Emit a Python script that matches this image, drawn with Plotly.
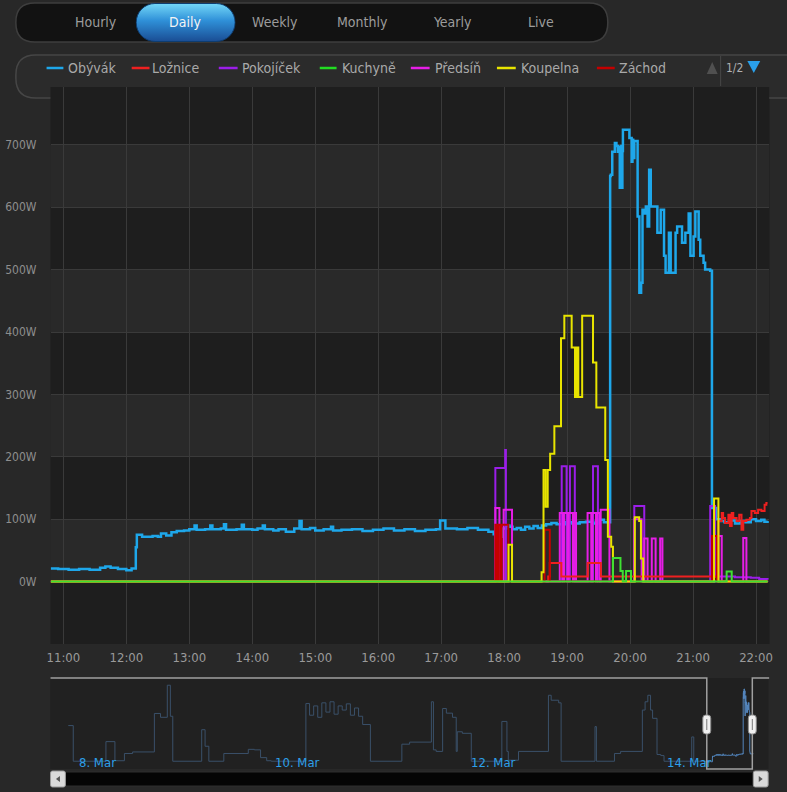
import base64
import plotly.graph_objects as go

DAY = "2015-03-14 "

# ---------------- data (times HH:MM[:SS] on 14 Mar, values in W) ----------------
OBYVAK_T = ["10:48", "10:55", "11:05", "11:15", "11:25", "11:35", "11:40", "11:45", "11:52", "12:00",
            "12:05", "12:09", "12:10", "12:15", "12:25", "12:30", "12:33", "12:38", "12:43", "12:48",
            "12:55", "13:00", "13:05", "13:07", "13:15", "13:20", "13:22", "13:30", "13:33", "13:35",
            "13:45", "13:50", "13:52", "14:00", "14:05", "14:10", "14:12", "14:20", "14:25", "14:32",
            "14:40", "14:45", "14:47", "14:55", "15:00", "15:08", "15:15", "15:17", "15:25", "15:35",
            "15:45", "15:55", "16:05", "16:15", "16:25", "16:35", "16:45", "16:55", "16:59", "17:04",
            "17:15", "17:25", "17:35", "17:45", "17:50", "17:55", "17:58", "18:02", "18:05", "18:08",
            "18:12", "18:16", "18:20", "18:24", "18:28", "18:32", "18:36", "18:40", "18:45", "18:50",
            "18:58", "19:05", "19:12", "19:18", "19:25", "19:30", "19:35",
            "19:41:00", "19:41:40", "19:43:00", "19:45:30", "19:47:00", "19:48:20", "19:49:40", "19:50:10",
            "19:50:40", "19:51:10", "19:51:40", "19:52:10", "19:52:40", "19:53:10", "19:59:20", "20:01:30",
            "20:02:15", "20:03:00", "20:04:00", "20:07:10", "20:08:50", "20:10:30", "20:11:50", "20:13:30",
            "20:15:00", "20:16:40", "20:18:10", "20:19:40", "20:24:20", "20:26:00", "20:29:10", "20:32:20",
            "20:33:50", "20:37:00", "20:38:40", "20:43:20", "20:44:50", "20:49:30", "20:52:40", "20:55:50",
            "20:57:30", "21:00:30", "21:02:10", "21:05:20", "21:06:50", "21:10:00", "21:11:30", "21:16:20",
            "21:18:00", "21:22", "21:26", "21:30", "21:35", "21:40", "21:45", "21:50", "21:55", "22:00",
            "22:05", "22:08", "22:11"]
OBYVAK_W = [21, 20, 19, 20, 19, 22, 24, 22, 20, 18,
            21, 55, 75, 72, 73, 72, 77, 74, 79, 81,
            82, 84, 90, 83, 84, 90, 84, 85, 92, 83,
            84, 91, 84, 83, 85, 90, 84, 82, 84, 80,
            85, 97, 84, 86, 82, 84, 88, 82, 83, 84,
            81, 83, 85, 82, 84, 81, 83, 84, 98, 85,
            84, 86, 83, 80, 76, 72, 85, 90, 88, 84,
            86, 83, 88, 85, 89, 86, 90, 92, 94, 92,
            95, 93, 95, 96, 93, 99, 95,
            650, 652, 689, 703, 698, 689, 697, 631,
            695, 633, 698, 631, 690, 724, 711, 673,
            708, 679, 706, 585, 463, 479, 596, 590,
            601, 569, 660, 601, 601, 559, 596, 522,
            495, 559, 495, 559, 569, 543, 559, 590,
            522, 553, 593, 548, 522, 511, 500, 498,
            118, 100, 97, 95, 98, 93, 97, 95, 100, 97,
            99, 96, 97]

LOZNICE_T = ["10:48", "18:42", "18:43:30", "18:54:30", "19:19:40", "19:32:10", "21:24:10", "21:27:20",
             "21:28:40", "21:30:30", "21:33:40", "21:35:10", "21:36:50", "21:38:20", "21:41:30", "21:44:00",
             "21:46:10", "21:47:50", "21:50:50", "21:54:10", "21:55:40", "21:58:50", "22:02:00", "22:05:10",
             "22:08:10", "22:09:50", "22:11:00"]
LOZNICE_W = [0, 8, 30, 8, 30, 8, 97, 110,
             102, 94, 107, 89, 110, 102, 97, 107,
             83, 97, 99, 102, 113, 110, 115, 113,
             123, 126, 126]

POKOJICEK_T = ["10:48", "17:51:36", "18:01:00", "18:01:40", "18:54:50", "18:59:30", "19:02:40", "19:07:20",
               "19:24:40", "19:29:20", "20:04:00", "20:13:30", "21:16:20", "21:21:00", "21:40", "21:55",
               "22:03", "22:11"]
POKOJICEK_W = [0, 182, 211, 0, 185, 0, 185, 0,
               185, 0, 121, 0, 121, 8, 7, 6,
               4, 3]

KUCHYNE_T = ["10:48", "19:43:40", "19:50:50", "19:53:00", "19:56:10", "20:00:50", "21:32:00", "21:36:50", "22:11"]
KUCHYNE_W = [0, 38, 17, 0, 17, 0, 16, 0, 0]

PREDSIN_T = ["10:48", "17:51:36", "17:55:30", "17:59:30", "18:07:30", "18:53:00", "18:56:00", "18:57:00",
             "19:00:30", "19:01:30", "19:05:30", "19:06:30", "19:08:30", "19:19:30", "19:23:00", "19:24:00",
             "19:27:30", "19:28:30", "19:31:00", "19:32:00", "19:40:20", "20:04:00", "20:11:00", "20:13:30",
             "20:16:40", "20:20:40", "20:24:20", "20:28:40", "20:30:50", "21:24:10", "21:27:20", "21:47:50",
             "21:50:50", "22:11"]
PREDSIN_W = [0, 118, 0, 115, 0, 110, 0, 110,
             0, 110, 0, 110, 0, 110, 0, 110,
             0, 110, 0, 115, 0, 100, 0, 69,
             0, 69, 0, 69, 0, 73, 0, 70,
             0, 0]

KOUPELNA_T = ["10:48", "18:04:10", "18:07:30", "18:35:40", "18:37:30", "18:39:30", "18:41:30", "18:43:50",
              "18:47:50", "18:54:10", "18:57:20", "19:04:20", "19:07:30", "19:09:00", "19:10:40", "19:14:20",
              "19:24:40", "19:27:50", "19:36:20", "19:38:50", "19:42:00", "19:43:40", "20:04:30", "20:08:40",
              "20:10:20", "20:12:30", "21:20:00", "21:24:10", "22:11"]
KOUPELNA_W = [0, 59, 0, 15, 179, 120, 179, 205,
              249, 390, 426, 375, 296, 375, 296, 426,
              351, 279, 195, 72, 56, 0, 103, 97,
              37, 0, 133, 0, 0]

ZACHOD_T = ["10:48", "17:51:36", "17:53:30", "17:54:30", "17:56:30", "17:57:30", "18:04:00", "18:38:30",
            "18:43:30", "21:18:00", "21:22:40", "22:11"]
ZACHOD_W = [0, 91, 0, 91, 0, 91, 0, 83,
            0, 73, 0, 0]

# navigator history (first series over the previous days)
NAV_HIST_T = ["2015-03-07 22:25", "2015-03-07 23:38", "2015-03-08 07:38", "2015-03-08 09:50", "2015-03-08 12:10",
              "2015-03-08 14:10", "2015-03-08 19:30", "2015-03-08 21:00", "2015-03-08 22:40", "2015-03-08 23:25",
              "2015-03-09 00:00", "2015-03-09 07:05", "2015-03-09 07:55", "2015-03-09 08:50", "2015-03-09 12:30",
              "2015-03-09 18:30", "2015-03-09 20:00", "2015-03-09 21:30", "2015-03-09 23:00", "2015-03-10 00:06",
              "2015-03-10 08:36", "2015-03-10 09:30", "2015-03-10 10:30", "2015-03-10 11:30", "2015-03-10 12:30",
              "2015-03-10 13:30", "2015-03-10 14:30", "2015-03-10 15:30", "2015-03-10 16:30", "2015-03-10 17:30",
              "2015-03-10 18:30", "2015-03-10 19:30", "2015-03-10 20:30", "2015-03-10 21:30", "2015-03-10 22:30",
              "2015-03-11 00:24", "2015-03-11 08:06", "2015-03-11 10:00", "2015-03-11 15:20", "2015-03-11 15:50",
              "2015-03-11 16:30", "2015-03-11 18:05", "2015-03-11 19:00", "2015-03-11 20:30", "2015-03-11 21:25",
              "2015-03-11 21:40", "2015-03-11 22:55", "2015-03-12 01:06", "2015-03-12 08:35", "2015-03-12 09:50",
              "2015-03-12 10:10", "2015-03-12 12:40", "2015-03-12 20:00", "2015-03-12 20:40", "2015-03-12 22:30",
              "2015-03-12 23:06", "2015-03-13 07:24", "2015-03-13 07:45", "2015-03-13 12:10", "2015-03-13 13:40",
              "2015-03-13 19:00", "2015-03-13 19:40", "2015-03-13 20:20", "2015-03-13 21:00", "2015-03-13 21:30",
              "2015-03-13 22:35", "2015-03-13 23:30", "2015-03-14 00:18", "2015-03-14 07:05", "2015-03-14 07:35"]
NAV_HIST_W = [370, 25, 215, 30, 100,
              115, 487, 450, 760, 460,
              25, 330, 170, 25, 100,
              140, 135, 60, 30, 25,
              583, 470, 560, 450, 590,
              500, 600, 480, 560, 520,
              580, 470, 540, 460, 380,
              25, 190, 210, 600, 135,
              120, 535, 490, 450, 120,
              310, 295, 25, 410, 120,
              35, 120, 663, 615, 590,
              25, 360, 25, 100, 120,
              520, 600, 663, 520, 440,
              90, 80, 25, 260, 25]

NAV_TICKS = ["2015-03-08", "2015-03-10", "2015-03-12", "2015-03-14"]
NAV_TICK_TEXT = ["8. Mar", "10. Mar", "12. Mar", "14. Mar"]

TABS = ["Hourly", "Daily", "Weekly", "Monthly", "Yearly", "Live"]
Y_TICKS = [0, 100, 200, 300, 400, 500, 600, 700]
Y_TICK_TEXT = [f"{v}W" for v in Y_TICKS]

SERIES = [  # legend order
    ("Obývák", "#1ea7ea", OBYVAK_T, OBYVAK_W),
    ("Ložnice", "#ee2020", LOZNICE_T, LOZNICE_W),
    ("Pokojíček", "#9b1ee8", POKOJICEK_T, POKOJICEK_W),
    ("Kuchyně", "#22dd22", KUCHYNE_T, KUCHYNE_W),
    ("Předsíň", "#e61ee6", PREDSIN_T, PREDSIN_W),
    ("Koupelna", "#e8e400", KOUPELNA_T, KOUPELNA_W),
    ("Záchod", "#c40000", ZACHOD_T, ZACHOD_W),
]
DRAW_ORDER = ["Obývák", "Pokojíček", "Předsíň", "Ložnice", "Záchod", "Koupelna", "Kuchyně"]
LINE_COLOR = {"Kuchyně": "#3ee032"}
LINE_WIDTH = {"Obývák": 2.5}

# ---------------- helpers ----------------
W, H = 787, 792
FONT = "DejaVu Sans Condensed, DejaVu Sans, sans-serif"


def fx(x):
    return x / W


def fy(y):
    return 1 - y / H


def rrect(x0, y0, x1, y1, r):
    return (f"M {fx(x0 + r)},{fy(y0)} L {fx(x1 - r)},{fy(y0)} Q {fx(x1)},{fy(y0)} {fx(x1)},{fy(y0 + r)} "
            f"L {fx(x1)},{fy(y1 - r)} Q {fx(x1)},{fy(y1)} {fx(x1 - r)},{fy(y1)} "
            f"L {fx(x0 + r)},{fy(y1)} Q {fx(x0)},{fy(y1)} {fx(x0)},{fy(y1 - r)} "
            f"L {fx(x0)},{fy(y0 + r)} Q {fx(x0)},{fy(y0)} {fx(x0 + r)},{fy(y0)} Z")


def poly(points):
    s = "M " + " L ".join(f"{fx(a)},{fy(b)}" for a, b in points)
    return s + " Z"


def svg_uri(svg):
    return "data:image/svg+xml;base64," + base64.b64encode(svg.encode()).decode()


fig = go.Figure()

series_map = {s[0]: s for s in SERIES}
for i, name in enumerate(DRAW_ORDER):
    _, color, ts, ws = series_map[name]
    fig.add_trace(go.Scatter(
        x=[DAY + t for t in ts], y=ws, mode="lines", name=name,
        line=dict(color=LINE_COLOR.get(name, color), width=LINE_WIDTH.get(name, 2), shape="hv"),
        zorder=i,
        xaxis="x", yaxis="y", showlegend=False, hoverinfo="skip"))

# navigator series
fig.add_trace(go.Scatter(
    x=NAV_HIST_T + [DAY + t for t in OBYVAK_T], y=NAV_HIST_W + OBYVAK_W,
    mode="lines", line=dict(color="#5586bd", width=1, shape="hv"),
    xaxis="x2", yaxis="y2", showlegend=False, hoverinfo="skip"))

PLOT_L, PLOT_R, PLOT_T, PLOT_B = 47, 773, 87, 644
PX_PER_100 = 62.4
y_top = -100 + 100 * (PLOT_B - PLOT_T) / PX_PER_100

shapes = []
# tab bar container
shapes.append(dict(type="path", xref="paper", yref="paper", path=rrect(12, 3, 610, 42, 19),
                   fillcolor="#121212", line=dict(color="#3e3e3e", width=1.5), layer="below"))
# legend box
shapes.append(dict(type="path", xref="paper", yref="paper", path=rrect(12, 55, 812, 98, 20),
                   fillcolor="#2b2b2b", line=dict(color="#464646", width=1.5), layer="below"))
# alternate bands
for lo in range(-100, 800, 200):
    shapes.append(dict(type="rect", xref="x domain", yref="y", x0=0, x1=1, y0=lo, y1=lo + 100,
                       fillcolor="#1e1e1e", line=dict(width=0), layer="below"))
# legend separator
shapes.append(dict(type="line", xref="paper", yref="paper", x0=fx(724), x1=fx(724), y0=fy(56), y1=fy(86),
                   line=dict(color="#474747", width=1)))
# pager triangles
shapes.append(dict(type="path", xref="paper", yref="paper", path=poly([(710, 74), (721, 74), (715.5, 62)]),
                   fillcolor="#505050", line=dict(width=0)))
shapes.append(dict(type="path", xref="paper", yref="paper", path=poly([(751, 61), (764, 61), (757.5, 73)]),
                   fillcolor="#2aa0ea", line=dict(width=0)))
# legend symbols
legend_pos = {"Obývák": (43, 60, 63), "Ložnice": (129, 147, 148), "Pokojíček": (217, 236, 238.5),
              "Kuchyně": (319, 336, 339.5), "Předsíň": (411, 430, 433), "Koupelna": (498, 517, 520.5),
              "Záchod": (599, 617, 619.5)}
for name, color, _, _ in SERIES:
    a, b, _t = legend_pos[name]
    shapes.append(dict(type="line", xref="paper", yref="paper", x0=fx(a), x1=fx(b), y0=fy(68), y1=fy(68),
                       line=dict(color=color, width=2.5)))

# navigator background
shapes.append(dict(type="rect", xref="x2 domain", yref="y2 domain", x0=0, x1=1, y0=0, y1=1,
                   fillcolor="#202020", line=dict(width=0), layer="below"))
# navigator masks (unselected)
for a, b in [(47, 710), (755, 772)]:
    shapes.append(dict(type="rect", xref="paper", yref="paper", x0=fx(a), x1=fx(b), y0=fy(769), y1=fy(679),
                       fillcolor="rgba(34,34,34,0.55)", line=dict(width=0), layer="above"))
# navigator outline
shapes.append(dict(type="path", xref="paper", yref="paper",
                   path=(f"M {fx(47)},{fy(678)} L {fx(710)},{fy(678)} L {fx(710)},{fy(769)} "
                         f"L {fx(756)},{fy(769)} L {fx(756)},{fy(678)} L {fx(773)},{fy(678)}"),
                   line=dict(color="#a0a0a0", width=1.5)))
# handles
for cx in (710, 756):
    shapes.append(dict(type="path", xref="paper", yref="paper", path=rrect(cx - 4, 715, cx + 4, 734, 3),
                       fillcolor="#f0f0f0", line=dict(color="#8a8a8a", width=1)))
    shapes.append(dict(type="line", xref="paper", yref="paper", x0=fx(cx), x1=fx(cx), y0=fy(719), y1=fy(730),
                       line=dict(color="#777", width=1)))
# scrollbar
shapes.append(dict(type="rect", xref="paper", yref="paper", x0=fx(62), x1=fx(757), y0=fy(786), y1=fy(772),
                   fillcolor="#050505", line=dict(color="#2e2e2e", width=1)))
for a, b in [(47, 62), (757, 772)]:
    shapes.append(dict(type="path", xref="paper", yref="paper", path=rrect(a, 771, b, 787, 2),
                       fillcolor="#dadada", line=dict(color="#9a9a9a", width=1)))
shapes.append(dict(type="path", xref="paper", yref="paper", path=poly([(56.5, 776), (56.5, 782), (52.5, 779)]),
                   fillcolor="#555", line=dict(width=0)))
shapes.append(dict(type="path", xref="paper", yref="paper", path=poly([(762.5, 776), (762.5, 782), (766.5, 779)]),
                   fillcolor="#555", line=dict(width=0)))

# images: Daily pill and scrollbar thumb
pill_svg = ("<svg xmlns='http://www.w3.org/2000/svg' width='101' height='39'><defs>"
            "<linearGradient id='g' x1='0' y1='0' x2='0' y2='1'>"
            "<stop offset='0' stop-color='#74d8f8'/><stop offset='0.45' stop-color='#2f90d8'/>"
            "<stop offset='1' stop-color='#1a4d94'/></linearGradient></defs>"
            "<rect x='0.5' y='0.5' width='100' height='38' rx='19' ry='19' fill='url(#g)' stroke='#0f3d70'/></svg>")
thumb_svg = ("<svg xmlns='http://www.w3.org/2000/svg' width='44' height='14'><defs>"
             "<linearGradient id='g' x1='0' y1='0' x2='0' y2='1'>"
             "<stop offset='0' stop-color='#63c9f6'/><stop offset='1' stop-color='#1c8ee2'/></linearGradient></defs>"
             "<rect x='0.5' y='0.5' width='43' height='13' rx='6.5' ry='6.5' fill='url(#g)' stroke='#1a72b8'/>"
             "<rect x='18.5' y='4' width='1.2' height='6' fill='#fff'/><rect x='21.4' y='4' width='1.2' height='6' fill='#fff'/>"
             "<rect x='24.3' y='4' width='1.2' height='6' fill='#fff'/></svg>")
images = [
    dict(source=svg_uri(pill_svg), xref="paper", yref="paper", x=fx(133), y=fy(3), sizex=101 / W, sizey=39 / H,
         xanchor="left", yanchor="top", sizing="stretch", layer="above"),
    dict(source=svg_uri(thumb_svg), xref="paper", yref="paper", x=fx(712), y=fy(772), sizex=44 / W, sizey=14 / H,
         xanchor="left", yanchor="top", sizing="stretch", layer="above"),
]

annotations = []
tab_x = [93, 183, 273.5, 362, 453, 543]
for label, xc in zip(TABS, tab_x):
    annotations.append(dict(text=label, xref="paper", yref="paper", x=fx(xc), y=fy(22), showarrow=False,
                            xanchor="center", yanchor="middle",
                            font=dict(family=FONT, size=14, color="#f4f4f4" if label == "Daily" else "#9c9c9c")))
for name, color, _, _ in SERIES:
    annotations.append(dict(text=name, xref="paper", yref="paper", x=fx(legend_pos[name][2]), y=fy(68),
                            showarrow=False, xanchor="left", yanchor="middle",
                            font=dict(family=FONT, size=14, color="#a9a9a9")))
annotations.append(dict(text="1/2", xref="paper", yref="paper", x=fx(737.5), y=fy(68), showarrow=False,
                        xanchor="center", yanchor="middle", font=dict(family=FONT, size=12, color="#b0b0b0")))
for tv, tt in zip(NAV_TICKS, NAV_TICK_TEXT):
    annotations.append(dict(text=tt, xref="x2", yref="paper", x=tv, y=fy(762), showarrow=False, xshift=2,
                            xanchor="left", yanchor="middle",
                            font=dict(family=FONT, size=13, color="#2d9fe8")))

fig.update_layout(
    width=W, height=H, margin=dict(l=0, r=0, t=0, b=0),
    paper_bgcolor="#282828", plot_bgcolor="#292929",
    font=dict(family=FONT, color="#999"),
    hovermode=False, showlegend=False,
    shapes=shapes, images=images, annotations=annotations,
    xaxis=dict(domain=[fx(PLOT_L), fx(PLOT_R)], type="date", anchor="y",
               range=[DAY + "10:47:45", DAY + "22:12:30"],
               tick0=DAY + "11:00", dtick=3600000, tickformat="%H:%M",
               showgrid=True, gridcolor="#3a3a3a", gridwidth=1, zeroline=False, showline=False, ticks="",
               ticklabelstandoff=4,
               tickfont=dict(family=FONT, size=13, color="#9a9a9a"), fixedrange=True),
    yaxis=dict(domain=[1 - PLOT_B / H, 1 - PLOT_T / H], anchor="x", range=[-100, y_top],
               tickmode="array", tickvals=Y_TICKS, ticktext=Y_TICK_TEXT,
               showgrid=True, gridcolor="#3a3a3a", gridwidth=1, zeroline=False, showline=False, ticks="",
               ticklabelstandoff=13,
               tickfont=dict(family=FONT, size=12, color="#8e8e8e"), fixedrange=True),
    xaxis2=dict(domain=[fx(47), fx(772)], type="date", anchor="y2",
                range=["2015-03-07 18:04", "2015-03-15 01:48"],
                showgrid=False, showticklabels=False, zeroline=False, showline=False, ticks="", fixedrange=True),
    yaxis2=dict(domain=[1 - 769 / H, 1 - 678 / H], anchor="x2", range=[-50, 830],
                showgrid=False, showticklabels=False, zeroline=False, showline=False, ticks="", fixedrange=True),
)

fig.write_html("out.html", config={"displayModeBar": False, "staticPlot": True},
               post_script="document.body.style.margin='0';document.body.style.padding='0';"
                           "document.documentElement.style.overflow='hidden';")
